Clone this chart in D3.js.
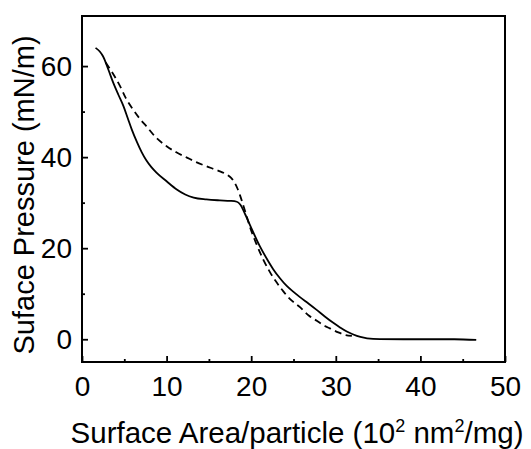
<!DOCTYPE html>
<html><head><meta charset="utf-8">
<script src="https://cdn.jsdelivr.net/npm/d3@7"></script>
<style>body{margin:0;background:#fff}svg{display:block}text{font-family:Arial,"Liberation Sans",sans-serif;fill:#000}</style>
</head><body><svg id="c" width="531" height="449"></svg>
<script>
const solidX = [1.6,2.1,2.5,3.1,3.7,4.3,4.9,5.4,5.9,6.5,7.05,7.6,8.2,8.8,10.0,11.2,12.2,13.2,14.7,16.3,17.5,18.3,18.7,19.3,19.9,21.0,22.0,22.6,23.4,24.2,25.0,25.8,26.8,27.7,28.7,29.7,30.5,31.3,32.0,32.9,33.7,35.2,38,41,44,46.6];
const solidY = [64.0,63.2,62.1,59.3,56.3,53.7,51.2,48.6,46.0,43.3,41.1,39.3,37.8,36.6,34.7,32.9,31.8,31.1,30.7,30.5,30.4,30.2,29.6,27.4,24.9,20.5,17.2,15.4,13.4,11.7,10.4,9.2,7.8,6.5,5.0,3.6,2.6,1.7,1.1,0.5,0.2,0.03,0,0,0,-0.15];
const dashX = [2.8,3.5,4.5,5.2,6.06,6.8,7.6,8.7,10.0,11.2,12.4,13.5,14.7,16.0,17.1,17.6,18.1,18.4,18.7,19.2,19.9,20.6,21.4,22.2,23.0,23.8,24.6,25.8,26.8,27.8,28.7,29.3,30.3,31.0,31.9];
const dashY = [60.8,58.8,55.6,52.9,50.4,48.5,46.8,44.4,42.4,41.0,39.9,38.9,38.0,37.1,36.2,35.5,34.2,33.0,31.5,28.6,24.4,21.0,17.6,14.8,12.5,10.5,8.8,7.0,5.2,4.0,2.9,2.4,1.5,1.0,0.75];
const xTicks = [0,10,20,30,40,50];
const xMinor = [5,15,25,35,45];
const yTicks = [0,20,40,60];
const yMinor = [10,30,50];

const svg = d3.select("#c");
const L=82,R=505,T=16,B=362;
const x = d3.scaleLinear().domain([0,50]).range([L,R]);
const y = d3.scaleLinear().domain([-5,71]).range([B,T]);

const g = svg.append("g");
const line = d3.line().x(d=>x(d[0])).y(d=>y(d[1])).curve(d3.curveMonotoneX);
g.append("path").datum(d3.zip(solidX,solidY)).attr("d",line)
 .attr("fill","none").attr("stroke","#000").attr("stroke-width",1.8);
g.append("path").datum(d3.zip(dashX,dashY)).attr("d",line)
 .attr("fill","none").attr("stroke","#000").attr("stroke-width",1.8).attr("stroke-dasharray","7,4.5");

const xa = svg.append("g").attr("transform",`translate(0,${B})`)
 .call(d3.axisBottom(x).tickValues(xTicks).tickSize(-6).tickPadding(14).tickFormat(d3.format("d")));
const xm = svg.append("g").attr("transform",`translate(0,${B})`)
 .call(d3.axisBottom(x).tickValues(xMinor).tickSize(-3).tickFormat(""));
const ya = svg.append("g").attr("transform",`translate(${L},0)`)
 .call(d3.axisLeft(y).tickValues(yTicks).tickSize(-6).tickPadding(10).tickFormat(d3.format("d")));
const ym = svg.append("g").attr("transform",`translate(${L},0)`)
 .call(d3.axisLeft(y).tickValues(yMinor).tickSize(-3).tickFormat(""));
[xa,xm,ya,ym].forEach(a=>{a.select(".domain").remove();a.selectAll("line").attr("stroke","#000").attr("stroke-width",1.8);});
[xa,ya].forEach(a=>a.selectAll("text").style("font-size","28px").style("font-family","Arial, 'Liberation Sans', sans-serif"));
xa.selectAll("text").attr("dy","0.71em");

svg.append("rect").attr("x",L).attr("y",T).attr("width",R-L).attr("height",B-T)
 .attr("fill","none").attr("stroke","#000").attr("stroke-width",2);

const xt = svg.append("text").attr("x",297).attr("y",443).attr("text-anchor","middle").style("font-size","29.5px");
xt.append("tspan").text("Surface Area/particle (10");
xt.append("tspan").attr("dy",-11).style("font-size","18px").text("2");
xt.append("tspan").attr("dy",11).text(" nm");
xt.append("tspan").attr("dy",-11).style("font-size","18px").text("2");
xt.append("tspan").attr("dy",11).text("/mg)");
svg.append("text").attr("transform",`translate(34,195) rotate(-90)`).attr("text-anchor","middle")
 .style("font-size","29px").text("Suface Pressure (mN/m)");
</script></body></html>
